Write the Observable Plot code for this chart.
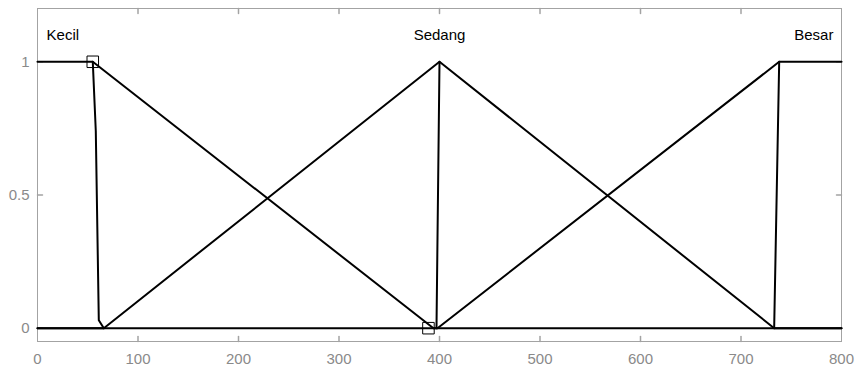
<!DOCTYPE html>
<html>
<head>
<meta charset="utf-8">
<script src="https://cdn.jsdelivr.net/npm/d3@7"></script>
<script src="https://cdn.jsdelivr.net/npm/@observablehq/plot@0.6"></script>
<style>
  html, body { margin: 0; padding: 0; background: #fff; }
  #chart svg { display: block; }
</style>
</head>
<body>
<div id="chart"></div>
<script>
// Membership functions (x, degree)
const kecilX = [0, 55, 394, 800];
const kecilY = [1, 1, 0, 0];
const sedangX = [0, 66, 400, 733, 800];
const sedangY = [0, 0, 1, 0, 0];
const besarX = [0, 398, 738, 800];
const besarY = [0, 0, 1, 1];
// Steep edges
const edge1X = [55, 58, 61, 66];
const edge1Y = [1, 0.74, 0.03, 0];
const edge2X = [400, 397];
const edge2Y = [1, 0];
const edge3X = [733, 738];
const edge3Y = [0, 1];
// Square markers
const markerX = [55, 389];
const markerY = [1, 0];
// Labels
const labelNames = ["Kecil", "Sedang", "Besar"];
const labelX = [9, 400, 792];
const labelY = [1.1, 1.1, 1.1];
const labelAnchor = ["start", "middle", "end"];
// Ticks
const xTicks = [0, 100, 200, 300, 400, 500, 600, 700, 800];
const yTicks = [0, 0.5, 1];
const xDomain = [0, 800];
const yDomain = [-0.05, 1.2];

const toPts = (xs, ys, name) => xs.map((x, i) => ({x, y: ys[i], name}));
const lines = [
  ...toPts(kecilX, kecilY, "kecil"),
  ...toPts(sedangX, sedangY, "sedang"),
  ...toPts(besarX, besarY, "besar"),
  ...toPts(edge1X, edge1Y, "e1"),
  ...toPts(edge2X, edge2Y, "e2"),
  ...toPts(edge3X, edge3Y, "e3")
];
const markers = markerX.map((x, i) => ({x, y: markerY[i]}));
const labels = labelNames.map((t, i) => ({t, x: labelX[i], y: labelY[i], a: labelAnchor[i]}));
const innerX = xTicks.slice(1, -1);

const tickShape = {draw(context, l) { context.moveTo(0, 0); context.lineTo(0, -l); }};
const grey = "#a3a3a3";
const labelGrey = "#8a8a8a";

const chart = Plot.plot({
  width: 856,
  height: 367,
  marginLeft: 37,
  marginRight: 15,
  marginTop: 8,
  marginBottom: 26,
  style: {fontFamily: "'Liberation Sans', Arial, sans-serif", fontSize: "14px", background: "#fff"},
  x: {domain: xDomain},
  y: {domain: yDomain},
  marks: [
    Plot.frame({stroke: grey}),
    Plot.vector(innerX, {x: d => d, frameAnchor: "bottom", length: 5, rotate: 0, anchor: "start", shape: tickShape, stroke: grey}),
    Plot.vector(innerX, {x: d => d, frameAnchor: "top", length: 5, rotate: 180, anchor: "start", shape: tickShape, stroke: grey}),
    Plot.vector(yTicks, {y: d => d, frameAnchor: "left", length: 5, rotate: 90, anchor: "start", shape: tickShape, stroke: grey}),
    Plot.vector(yTicks, {y: d => d, frameAnchor: "right", length: 5, rotate: -90, anchor: "start", shape: tickShape, stroke: grey}),
    Plot.axisX({ticks: xTicks, tickSize: 0, tickPadding: 12, color: labelGrey, fontSize: 15, label: null}),
    Plot.axisY({ticks: yTicks, tickSize: 0, tickPadding: 8, color: labelGrey, fontSize: 15, label: null, tickFormat: d => String(d)}),
    Plot.line(lines, {x: "x", y: "y", z: "name", stroke: "black", strokeWidth: 2}),
    Plot.dot(markers, {x: "x", y: "y", symbol: "square", r: 6.5, stroke: "black", strokeWidth: 1, fill: "none"}),
    Plot.text(labels.filter(d => d.a === "start"), {x: "x", y: "y", text: "t", textAnchor: "start", fill: "black", fontSize: 15}),
    Plot.text(labels.filter(d => d.a === "middle"), {x: "x", y: "y", text: "t", textAnchor: "middle", fill: "black", fontSize: 15}),
    Plot.text(labels.filter(d => d.a === "end"), {x: "x", y: "y", text: "t", textAnchor: "end", fill: "black", fontSize: 15})
  ]
});
document.getElementById("chart").appendChild(chart);
</script>
</body>
</html>
